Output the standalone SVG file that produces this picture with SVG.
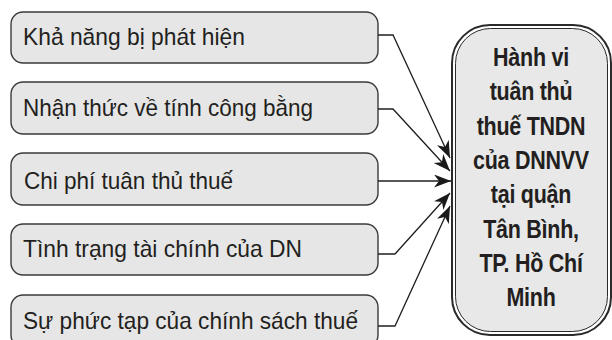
<svg xmlns="http://www.w3.org/2000/svg" width="612" height="340" viewBox="0 0 612 340">
  <defs>
    <marker id="arrow" markerUnits="userSpaceOnUse" markerWidth="20" markerHeight="14" refX="17" refY="6.5" orient="auto">
      <path d="M0,0 L17,6.5 L0,13 L5,6.5 Z" fill="#1a1a1a"/>
    </marker>
  </defs>
  <style>
    .factor rect { fill: #e6e6e6; stroke: #3a3a3a; stroke-width: 1.4; }
    .factor text { font-family: "Liberation Sans", Arial, sans-serif; font-size: 24px; fill: #231f20; }
    .link { fill: none; stroke: #1f1f1f; stroke-width: 1.3; marker-end: url(#arrow); }
    .outcome-text { font-family: "Liberation Sans", Arial, sans-serif; font-size: 25px; font-weight: bold; fill: #231f20; text-anchor: middle; letter-spacing: -0.3px; }
  </style>

  <rect width="612" height="340" fill="#ffffff"/>

  <!-- factor boxes -->
  <g id="factor-detection" class="factor">
    <rect x="11" y="12" width="367" height="51" rx="12"/>
    <text x="23" y="45" textLength="222" lengthAdjust="spacingAndGlyphs">Khả năng bị phát hiện</text>
  </g>
  <g id="factor-fairness" class="factor">
    <rect x="11" y="82" width="367" height="52" rx="12"/>
    <text x="23" y="116" textLength="290" lengthAdjust="spacingAndGlyphs">Nhận thức về tính công bằng</text>
  </g>
  <g id="factor-cost" class="factor">
    <rect x="11" y="153" width="367" height="52" rx="12"/>
    <text x="24" y="189" textLength="209" lengthAdjust="spacingAndGlyphs">Chi phí tuân thủ thuế</text>
  </g>
  <g id="factor-finance" class="factor">
    <rect x="11" y="224" width="367" height="51" rx="12"/>
    <text x="23" y="257" textLength="279" lengthAdjust="spacingAndGlyphs">Tình trạng tài chính của DN</text>
  </g>
  <g id="factor-complexity" class="factor">
    <rect x="11" y="295" width="367" height="52" rx="12"/>
    <text x="23" y="329" textLength="335" lengthAdjust="spacingAndGlyphs">Sự phức tạp của chính sách thuế</text>
  </g>

  <!-- outcome box with double border -->
  <g id="outcome">
    <rect x="452" y="25" width="159" height="310" rx="38" fill="#ffffff" stroke="#2a2a2a" stroke-width="2"/>
    <rect x="455.5" y="28.5" width="152" height="303" rx="35" fill="#e8e8e8" stroke="#2a2a2a" stroke-width="1"/>
    <g transform="translate(531,0) scale(0.86,1)">
      <text class="outcome-text" x="0" y="66">Hành vi</text>
      <text class="outcome-text" x="0" y="100">tuân thủ</text>
      <text class="outcome-text" x="0" y="135">thuế TNDN</text>
      <text class="outcome-text" x="0" y="169">của DNNVV</text>
      <text class="outcome-text" x="0" y="203">tại quận</text>
      <text class="outcome-text" x="0" y="238">Tân Bình,</text>
      <text class="outcome-text" x="0" y="272">TP. Hồ Chí</text>
      <text class="outcome-text" x="0" y="306">Minh</text>
    </g>
  </g>

  <!-- connectors -->
  <g id="connectors">
    <path class="link" d="M378,35 H393 L450,158"/>
    <path class="link" d="M378,109 H393 L450,171"/>
    <path class="link" d="M378,181 H451"/>
    <path class="link" d="M378,254 H395 L450,193"/>
    <path class="link" d="M378,326 H395 L450,206"/>
  </g>
</svg>
